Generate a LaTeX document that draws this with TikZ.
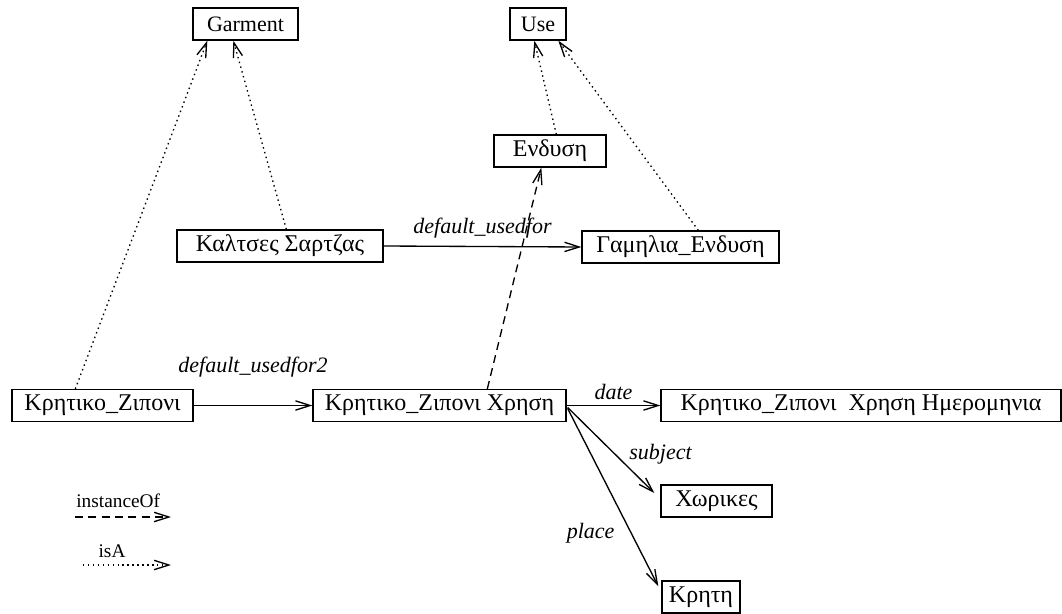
\documentclass[tikz,border=0pt]{standalone}
\usepackage{fontspec}
\setmainfont{Liberation Serif}
\usetikzlibrary{arrows.meta,calc}

\begin{document}
\begin{tikzpicture}[
  x=0.75pt, y=-0.75pt,
  every node/.style={font=\fontsize{16.5}{19}\selectfont},
  box/.style={draw, line width=1pt, inner sep=0pt, minimum height=24pt},
  gr/.style={font=\fontsize{18}{20}\selectfont},
  w/.style={minimum width=#1*0.75pt},
  rel/.style={line width=1pt, -{Straight Barb[length=11pt,width=7pt,line width=1pt]}},
  inst/.style={rel, dash pattern=on 6pt off 4pt},
  isa/.style={rel, line width=1pt, dash pattern=on 1.1pt off 2.6pt},
  lbl/.style={font=\fontsize{16.5}{19}\selectfont\itshape, inner sep=0pt},
  leg/.style={font=\fontsize{14.5}{16}\selectfont}
]
\useasboundingbox (0,0) rectangle (1062,613);

% concept boxes
\node[box, w=105] (garment) at (245.5,24) {Garment};
\node[box, w=56]  (use)     at (538,24)   {Use};
\node[box, gr, w=112] (endysi)  at (550,151)  {Ενδυση};
\node[box, gr, w=206] (kaltses) at (280,246)  {Καλτσες Σαρτζας};
\node[box, gr, w=197] (gamilia) at (680.5,247){Γαμηλια\_Ενδυση};
\node[box, gr, w=181] (ziponi)  at (102.5,405.5) {Κρητικο\_Ζιπονι};
\node[box, gr, w=253] (xrisi)   at (439.5,405.5) {Κρητικο\_Ζιπονι Χρηση};
\node[box, gr, w=400] (imer)    at (861,405.5)   {Κρητικο\_Ζιπονι\ \ Χρηση Ημερομηνια};
\node[box, gr, w=111] (xorikes) at (716.5,501)   {Χωρικες};
\node[box, gr, w=78]  (kriti)   at (701,597)     {Κρητη};

% attribute links
\draw[rel] (ziponi.east) -- node[lbl, above=21pt] {default\_usedfor2} (xrisi.west);
\draw[rel] (kaltses.east) -- node[lbl, above=6pt] {default\_usedfor} (gamilia.west);
\draw[rel] (xrisi.east) -- node[lbl, above=4pt] {date} (imer.west);
\draw[rel] ($(xrisi.east)+(1,2)$) -- node[lbl, pos=0.55, anchor=west, xshift=10pt] {subject} ($(xorikes.west)+(-6,-8)$);
\draw[rel] ($(xrisi.east)+(1,3)$) -- node[lbl, pos=0.7, anchor=east, xshift=-12pt] {place} ($(kriti.north west)+(-3,6)$);

% instance-of link
\draw[inst] ($(xrisi.north west)+(175,0)$) -- ($(endysi.south west)+(48,0)$);

% isA links
\draw[isa] ($(ziponi.north west)+(64,0)$) -- ($(garment.south west)+(15,0)$);
\draw[isa] ($(kaltses.north west)+(110,0)$) -- ($(garment.south west)+(41,0)$);
\draw[isa] ($(endysi.north west)+(63,0)$) -- ($(use.south west)+(25,0)$);
\draw[isa] ($(gamilia.north west)+(117,0)$) -- ($(use.south west)+(49,0)$);

% legend
\coordinate (instA) at (75,517);
\coordinate (instB) at (171,517);
\coordinate (isaA) at (83,565);
\coordinate (isaB) at (171,565);
\draw[inst] (instA) -- node[leg, above=3pt, pos=0.45] {instanceOf} (instB);
\draw[isa] (isaA) -- node[leg, above=2pt, pos=0.33] {isA} (isaB);
\end{tikzpicture}
\end{document}
